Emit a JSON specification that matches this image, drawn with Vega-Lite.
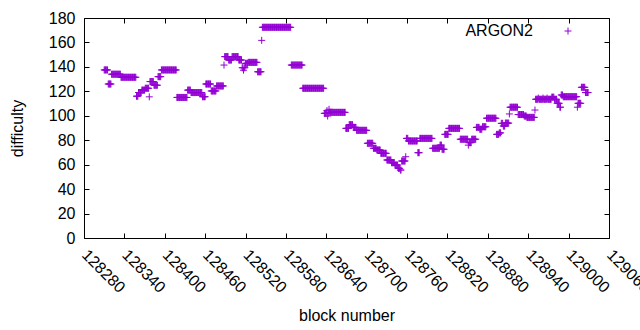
{
"$schema": "https://vega.github.io/schema/vega-lite/v6.json",
"width": 525, "height": 220,
"autosize": "none",
"padding": {"left": 84, "top": 18, "right": 31, "bottom": 92},
"background": "white",
"config": {
  "view": {"stroke": "black", "strokeWidth": 1},
  "font": "Liberation Sans",
  "axis": {"labelColor": "black", "tickColor": "black", "titleColor": "black", "titleFontWeight": "normal", "labelFontSize": 16, "titleFontSize": 16, "grid": false, "domain": false, "tickSize": -5, "tickWidth": 1}
},
"data": {"values": [
{"block":128310,"difficulty":137.5},{"block":128311,"difficulty":137.5},{"block":128312,"difficulty":137.5},{"block":128313,"difficulty":137.5},{"block":128314,"difficulty":137.5},{"block":128315,"difficulty":137.5},
{"block":128316,"difficulty":126},{"block":128317,"difficulty":126},{"block":128318,"difficulty":126},{"block":128319,"difficulty":126},{"block":128320,"difficulty":126},
{"block":128321,"difficulty":134},{"block":128322,"difficulty":134},{"block":128323,"difficulty":134},{"block":128324,"difficulty":134},{"block":128325,"difficulty":134},{"block":128326,"difficulty":134},{"block":128327,"difficulty":134},{"block":128328,"difficulty":134},{"block":128329,"difficulty":134},{"block":128330,"difficulty":134},{"block":128331,"difficulty":134},{"block":128332,"difficulty":134},{"block":128333,"difficulty":134},{"block":128334,"difficulty":134},
{"block":128335,"difficulty":131.5},{"block":128336,"difficulty":131.5},{"block":128337,"difficulty":131.5},{"block":128338,"difficulty":131.5},{"block":128339,"difficulty":131.5},{"block":128340,"difficulty":131.5},{"block":128341,"difficulty":131.5},{"block":128342,"difficulty":131.5},{"block":128343,"difficulty":131.5},{"block":128344,"difficulty":131.5},{"block":128345,"difficulty":131.5},{"block":128346,"difficulty":131.5},{"block":128347,"difficulty":131.5},{"block":128348,"difficulty":131.5},{"block":128349,"difficulty":131.5},{"block":128350,"difficulty":131.5},{"block":128351,"difficulty":131.5},{"block":128352,"difficulty":131.5},{"block":128353,"difficulty":131.5},{"block":128354,"difficulty":131.5},{"block":128355,"difficulty":131.5},{"block":128356,"difficulty":131.5},{"block":128357,"difficulty":131.5},
{"block":128358,"difficulty":116},{"block":128359,"difficulty":116},{"block":128360,"difficulty":116},
{"block":128361,"difficulty":119},{"block":128362,"difficulty":119},{"block":128363,"difficulty":119},{"block":128364,"difficulty":119},{"block":128365,"difficulty":119},
{"block":128366,"difficulty":121},{"block":128367,"difficulty":121},{"block":128368,"difficulty":121},{"block":128369,"difficulty":121},{"block":128370,"difficulty":121},
{"block":128371,"difficulty":122.5},{"block":128372,"difficulty":122.5},{"block":128373,"difficulty":122.5},{"block":128374,"difficulty":122.5},{"block":128375,"difficulty":122.5},{"block":128376,"difficulty":122.5},
{"block":128377,"difficulty":115.5},
{"block":128378,"difficulty":128},{"block":128379,"difficulty":128},{"block":128380,"difficulty":128},{"block":128381,"difficulty":128},{"block":128382,"difficulty":128},{"block":128383,"difficulty":128},
{"block":128384,"difficulty":125},{"block":128385,"difficulty":125},{"block":128386,"difficulty":125},{"block":128387,"difficulty":125},{"block":128388,"difficulty":125},{"block":128389,"difficulty":125},
{"block":128390,"difficulty":132},{"block":128391,"difficulty":132},{"block":128392,"difficulty":132},{"block":128393,"difficulty":132},{"block":128394,"difficulty":132},
{"block":128395,"difficulty":137.5},{"block":128396,"difficulty":137.5},{"block":128397,"difficulty":137.5},{"block":128398,"difficulty":137.5},{"block":128399,"difficulty":137.5},{"block":128400,"difficulty":137.5},{"block":128401,"difficulty":137.5},{"block":128402,"difficulty":137.5},{"block":128403,"difficulty":137.5},{"block":128404,"difficulty":137.5},{"block":128405,"difficulty":137.5},{"block":128406,"difficulty":137.5},{"block":128407,"difficulty":137.5},{"block":128408,"difficulty":137.5},{"block":128409,"difficulty":137.5},{"block":128410,"difficulty":137.5},{"block":128411,"difficulty":137.5},{"block":128412,"difficulty":137.5},{"block":128413,"difficulty":137.5},{"block":128414,"difficulty":137.5},{"block":128415,"difficulty":137.5},{"block":128416,"difficulty":137.5},{"block":128417,"difficulty":137.5},
{"block":128418,"difficulty":115},{"block":128419,"difficulty":115},{"block":128420,"difficulty":115},{"block":128421,"difficulty":115},{"block":128422,"difficulty":115},{"block":128423,"difficulty":115},{"block":128424,"difficulty":115},{"block":128425,"difficulty":115},{"block":128426,"difficulty":115},{"block":128427,"difficulty":115},{"block":128428,"difficulty":115},{"block":128429,"difficulty":115},{"block":128430,"difficulty":115},{"block":128431,"difficulty":115},{"block":128432,"difficulty":115},{"block":128433,"difficulty":115},
{"block":128434,"difficulty":121},{"block":128435,"difficulty":121},{"block":128436,"difficulty":121},{"block":128437,"difficulty":121},{"block":128438,"difficulty":121},
{"block":128439,"difficulty":119},{"block":128440,"difficulty":119},{"block":128441,"difficulty":119},{"block":128442,"difficulty":119},{"block":128443,"difficulty":119},{"block":128444,"difficulty":119},{"block":128445,"difficulty":119},{"block":128446,"difficulty":119},{"block":128447,"difficulty":119},{"block":128448,"difficulty":119},{"block":128449,"difficulty":119},{"block":128450,"difficulty":119},{"block":128451,"difficulty":119},{"block":128452,"difficulty":119},{"block":128453,"difficulty":119},{"block":128454,"difficulty":119},{"block":128455,"difficulty":119},
{"block":128456,"difficulty":115.6},{"block":128457,"difficulty":115.6},{"block":128458,"difficulty":115.6},{"block":128459,"difficulty":115.6},{"block":128460,"difficulty":115.6},
{"block":128461,"difficulty":126},{"block":128462,"difficulty":126},{"block":128463,"difficulty":126},{"block":128464,"difficulty":126},{"block":128465,"difficulty":126},{"block":128466,"difficulty":126},{"block":128467,"difficulty":126},{"block":128468,"difficulty":126},
{"block":128469,"difficulty":120.3},{"block":128470,"difficulty":120.3},{"block":128471,"difficulty":120.3},{"block":128472,"difficulty":120.3},{"block":128473,"difficulty":120.3},{"block":128474,"difficulty":120.3},{"block":128475,"difficulty":120.3},{"block":128476,"difficulty":120.3},
{"block":128477,"difficulty":124.4},{"block":128478,"difficulty":124.4},{"block":128479,"difficulty":124.4},{"block":128480,"difficulty":124.4},{"block":128481,"difficulty":124.4},{"block":128482,"difficulty":124.4},{"block":128483,"difficulty":124.4},{"block":128484,"difficulty":124.4},{"block":128485,"difficulty":124.4},{"block":128486,"difficulty":124.4},{"block":128487,"difficulty":124.4},
{"block":128488,"difficulty":141.5},
{"block":128489,"difficulty":148.4},{"block":128490,"difficulty":148.4},{"block":128491,"difficulty":148.4},{"block":128492,"difficulty":148.4},{"block":128493,"difficulty":148.4},{"block":128494,"difficulty":148.4},
{"block":128495,"difficulty":145.6},{"block":128496,"difficulty":145.6},{"block":128497,"difficulty":145.6},{"block":128498,"difficulty":145.6},{"block":128499,"difficulty":145.6},
{"block":128500,"difficulty":148.4},{"block":128501,"difficulty":148.4},{"block":128502,"difficulty":148.4},{"block":128503,"difficulty":148.4},{"block":128504,"difficulty":148.4},{"block":128505,"difficulty":148.4},{"block":128506,"difficulty":148.4},{"block":128507,"difficulty":148.4},{"block":128508,"difficulty":148.4},{"block":128509,"difficulty":148.4},
{"block":128510,"difficulty":145.6},{"block":128511,"difficulty":145.6},{"block":128512,"difficulty":145.6},{"block":128513,"difficulty":145.6},{"block":128514,"difficulty":145.6},
{"block":128515,"difficulty":139.3},{"block":128516,"difficulty":139.3},{"block":128517,"difficulty":137.3},{"block":128518,"difficulty":139.3},{"block":128519,"difficulty":139.3},
{"block":128520,"difficulty":142.9},{"block":128521,"difficulty":142.9},{"block":128522,"difficulty":142.9},{"block":128523,"difficulty":142.9},
{"block":128524,"difficulty":143.7},{"block":128525,"difficulty":143.7},{"block":128526,"difficulty":143.7},{"block":128527,"difficulty":143.7},{"block":128528,"difficulty":143.7},{"block":128529,"difficulty":143.7},{"block":128530,"difficulty":143.7},{"block":128531,"difficulty":143.7},{"block":128532,"difficulty":143.7},{"block":128533,"difficulty":143.7},{"block":128534,"difficulty":143.7},{"block":128535,"difficulty":143.7},{"block":128536,"difficulty":143.7},{"block":128537,"difficulty":143.7},
{"block":128538,"difficulty":136},{"block":128539,"difficulty":136},{"block":128540,"difficulty":136},{"block":128541,"difficulty":136},{"block":128542,"difficulty":136},{"block":128543,"difficulty":136},
{"block":128544,"difficulty":161.7},
{"block":128545,"difficulty":172.4},{"block":128546,"difficulty":172.4},{"block":128547,"difficulty":172.4},{"block":128548,"difficulty":172.4},{"block":128549,"difficulty":172.4},{"block":128550,"difficulty":172.4},{"block":128551,"difficulty":172.4},{"block":128552,"difficulty":172.4},{"block":128553,"difficulty":172.4},{"block":128554,"difficulty":172.4},{"block":128555,"difficulty":172.4},{"block":128556,"difficulty":172.4},{"block":128557,"difficulty":172.4},{"block":128558,"difficulty":172.4},{"block":128559,"difficulty":172.4},{"block":128560,"difficulty":172.4},{"block":128561,"difficulty":172.4},{"block":128562,"difficulty":172.4},{"block":128563,"difficulty":172.4},{"block":128564,"difficulty":172.4},{"block":128565,"difficulty":172.4},{"block":128566,"difficulty":172.4},{"block":128567,"difficulty":172.4},{"block":128568,"difficulty":172.4},{"block":128569,"difficulty":172.4},{"block":128570,"difficulty":172.4},{"block":128571,"difficulty":172.4},{"block":128572,"difficulty":172.4},{"block":128573,"difficulty":172.4},{"block":128574,"difficulty":172.4},{"block":128575,"difficulty":172.4},{"block":128576,"difficulty":172.4},{"block":128577,"difficulty":172.4},{"block":128578,"difficulty":172.4},{"block":128579,"difficulty":172.4},{"block":128580,"difficulty":172.4},{"block":128581,"difficulty":172.4},{"block":128582,"difficulty":172.4},{"block":128583,"difficulty":172.4},{"block":128584,"difficulty":172.4},{"block":128585,"difficulty":172.4},{"block":128586,"difficulty":172.4},{"block":128587,"difficulty":172.4},
{"block":128588,"difficulty":141.5},{"block":128589,"difficulty":141.5},{"block":128590,"difficulty":141.5},{"block":128591,"difficulty":141.5},{"block":128592,"difficulty":141.5},{"block":128593,"difficulty":141.5},{"block":128594,"difficulty":141.5},{"block":128595,"difficulty":141.5},{"block":128596,"difficulty":141.5},{"block":128597,"difficulty":141.5},{"block":128598,"difficulty":141.5},{"block":128599,"difficulty":141.5},{"block":128600,"difficulty":141.5},{"block":128601,"difficulty":141.5},{"block":128602,"difficulty":141.5},{"block":128603,"difficulty":141.5},{"block":128604,"difficulty":141.5},
{"block":128605,"difficulty":122.5},{"block":128606,"difficulty":122.5},{"block":128607,"difficulty":122.5},{"block":128608,"difficulty":122.5},{"block":128609,"difficulty":122.5},{"block":128610,"difficulty":122.5},{"block":128611,"difficulty":122.5},{"block":128612,"difficulty":122.5},{"block":128613,"difficulty":122.5},{"block":128614,"difficulty":122.5},{"block":128615,"difficulty":122.5},{"block":128616,"difficulty":122.5},{"block":128617,"difficulty":122.5},{"block":128618,"difficulty":122.5},{"block":128619,"difficulty":122.5},{"block":128620,"difficulty":122.5},{"block":128621,"difficulty":122.5},{"block":128622,"difficulty":122.5},{"block":128623,"difficulty":122.5},{"block":128624,"difficulty":122.5},{"block":128625,"difficulty":122.5},{"block":128626,"difficulty":122.5},{"block":128627,"difficulty":122.5},{"block":128628,"difficulty":122.5},{"block":128629,"difficulty":122.5},{"block":128630,"difficulty":122.5},{"block":128631,"difficulty":122.5},{"block":128632,"difficulty":122.5},{"block":128633,"difficulty":122.5},{"block":128634,"difficulty":122.5},{"block":128635,"difficulty":122.5},{"block":128636,"difficulty":122.5},
{"block":128637,"difficulty":102},{"block":128638,"difficulty":102},{"block":128639,"difficulty":102},{"block":128640,"difficulty":102},{"block":128641,"difficulty":104.2},{"block":128642,"difficulty":99.8},{"block":128643,"difficulty":102},{"block":128644,"difficulty":105.3},
{"block":128645,"difficulty":102.8},{"block":128646,"difficulty":102.8},{"block":128647,"difficulty":102.8},{"block":128648,"difficulty":102.8},{"block":128649,"difficulty":102.8},{"block":128650,"difficulty":102.8},{"block":128651,"difficulty":102.8},{"block":128652,"difficulty":102.8},{"block":128653,"difficulty":102.8},{"block":128654,"difficulty":102.8},{"block":128655,"difficulty":102.8},{"block":128656,"difficulty":102.8},{"block":128657,"difficulty":102.8},{"block":128658,"difficulty":102.8},{"block":128659,"difficulty":102.8},{"block":128660,"difficulty":102.8},{"block":128661,"difficulty":102.8},{"block":128662,"difficulty":102.8},{"block":128663,"difficulty":102.8},{"block":128664,"difficulty":102.8},{"block":128665,"difficulty":102.8},{"block":128666,"difficulty":102.8},{"block":128667,"difficulty":102.8},{"block":128668,"difficulty":102.8},
{"block":128669,"difficulty":89.7},{"block":128670,"difficulty":89.7},{"block":128671,"difficulty":89.7},{"block":128672,"difficulty":89.7},{"block":128673,"difficulty":89.7},
{"block":128674,"difficulty":92.7},{"block":128675,"difficulty":92.7},{"block":128676,"difficulty":92.7},{"block":128677,"difficulty":92.7},{"block":128678,"difficulty":92.7},{"block":128679,"difficulty":92.7},
{"block":128680,"difficulty":90.5},{"block":128681,"difficulty":90.5},{"block":128682,"difficulty":90.5},{"block":128683,"difficulty":90.5},{"block":128684,"difficulty":90.5},
{"block":128685,"difficulty":88.1},{"block":128686,"difficulty":88.1},{"block":128687,"difficulty":88.1},{"block":128688,"difficulty":88.1},{"block":128689,"difficulty":88.1},{"block":128690,"difficulty":88.1},{"block":128691,"difficulty":88.1},{"block":128692,"difficulty":88.1},{"block":128693,"difficulty":88.1},{"block":128694,"difficulty":88.1},{"block":128695,"difficulty":88.1},{"block":128696,"difficulty":88.1},{"block":128697,"difficulty":88.1},{"block":128698,"difficulty":88.1},{"block":128699,"difficulty":88.1},{"block":128700,"difficulty":88.1},
{"block":128701,"difficulty":77.5},{"block":128702,"difficulty":77.5},{"block":128703,"difficulty":77.5},{"block":128704,"difficulty":77.5},{"block":128705,"difficulty":77.5},{"block":128706,"difficulty":77.5},{"block":128707,"difficulty":77.5},{"block":128708,"difficulty":77.5},{"block":128709,"difficulty":77.5},
{"block":128710,"difficulty":73.4},{"block":128711,"difficulty":73.4},{"block":128712,"difficulty":73.4},{"block":128713,"difficulty":73.4},{"block":128714,"difficulty":73.4},
{"block":128715,"difficulty":72},{"block":128716,"difficulty":72},{"block":128717,"difficulty":72},{"block":128718,"difficulty":72},{"block":128719,"difficulty":72},{"block":128720,"difficulty":72},
{"block":128721,"difficulty":69.3},{"block":128722,"difficulty":69.3},{"block":128723,"difficulty":69.3},{"block":128724,"difficulty":69.3},{"block":128725,"difficulty":69.3},{"block":128726,"difficulty":69.3},{"block":128727,"difficulty":69.3},{"block":128728,"difficulty":69.3},{"block":128729,"difficulty":69.3},
{"block":128730,"difficulty":63.8},{"block":128731,"difficulty":63.8},{"block":128732,"difficulty":63.8},{"block":128733,"difficulty":63.8},{"block":128734,"difficulty":63.8},{"block":128735,"difficulty":63.8},{"block":128736,"difficulty":63.8},
{"block":128737,"difficulty":61.6},{"block":128738,"difficulty":61.6},{"block":128739,"difficulty":61.6},{"block":128740,"difficulty":61.6},{"block":128741,"difficulty":61.6},
{"block":128742,"difficulty":59.7},{"block":128743,"difficulty":59.7},{"block":128744,"difficulty":59.7},{"block":128745,"difficulty":59.7},{"block":128746,"difficulty":59.7},
{"block":128747,"difficulty":57},{"block":128748,"difficulty":57},{"block":128749,"difficulty":57},{"block":128750,"difficulty":55.6},{"block":128751,"difficulty":55.6},
{"block":128752,"difficulty":63},{"block":128753,"difficulty":63},{"block":128754,"difficulty":63},{"block":128755,"difficulty":63},{"block":128756,"difficulty":63},{"block":128757,"difficulty":63},
{"block":128758,"difficulty":66.5},
{"block":128759,"difficulty":81.5},{"block":128760,"difficulty":81.5},{"block":128761,"difficulty":81.5},
{"block":128762,"difficulty":79.4},{"block":128763,"difficulty":79.4},{"block":128764,"difficulty":79.4},{"block":128765,"difficulty":79.4},{"block":128766,"difficulty":79.4},{"block":128767,"difficulty":79.4},{"block":128768,"difficulty":79.4},{"block":128769,"difficulty":79.4},{"block":128770,"difficulty":79.4},{"block":128771,"difficulty":79.4},{"block":128772,"difficulty":79.4},{"block":128773,"difficulty":79.4},{"block":128774,"difficulty":79.4},{"block":128775,"difficulty":79.4},
{"block":128776,"difficulty":69.8},{"block":128777,"difficulty":69.8},{"block":128778,"difficulty":69.8},
{"block":128779,"difficulty":81.5},{"block":128780,"difficulty":81.5},{"block":128781,"difficulty":81.5},{"block":128782,"difficulty":81.5},{"block":128783,"difficulty":81.5},{"block":128784,"difficulty":81.5},{"block":128785,"difficulty":81.5},{"block":128786,"difficulty":81.5},{"block":128787,"difficulty":81.5},{"block":128788,"difficulty":81.5},{"block":128789,"difficulty":81.5},{"block":128790,"difficulty":81.5},{"block":128791,"difficulty":81.5},{"block":128792,"difficulty":81.5},{"block":128793,"difficulty":81.5},{"block":128794,"difficulty":81.5},{"block":128795,"difficulty":81.5},{"block":128796,"difficulty":81.5},{"block":128797,"difficulty":81.5},
{"block":128798,"difficulty":73.4},{"block":128799,"difficulty":73.4},{"block":128800,"difficulty":73.4},{"block":128801,"difficulty":73.4},{"block":128802,"difficulty":73.4},{"block":128803,"difficulty":73.4},{"block":128804,"difficulty":73.4},{"block":128805,"difficulty":73.4},{"block":128806,"difficulty":73.4},{"block":128807,"difficulty":73.4},{"block":128808,"difficulty":73.4},
{"block":128809,"difficulty":76},{"block":128810,"difficulty":76},{"block":128811,"difficulty":76},
{"block":128812,"difficulty":72.6},{"block":128813,"difficulty":72.6},{"block":128814,"difficulty":72.6},{"block":128815,"difficulty":72.6},
{"block":128816,"difficulty":84.8},{"block":128817,"difficulty":84.8},{"block":128818,"difficulty":84.8},{"block":128819,"difficulty":84.8},{"block":128820,"difficulty":84.8},{"block":128821,"difficulty":84.8},
{"block":128822,"difficulty":89.7},{"block":128823,"difficulty":89.7},{"block":128824,"difficulty":89.7},{"block":128825,"difficulty":89.7},{"block":128826,"difficulty":89.7},{"block":128827,"difficulty":89.7},{"block":128828,"difficulty":89.7},{"block":128829,"difficulty":89.7},{"block":128830,"difficulty":89.7},{"block":128831,"difficulty":89.7},{"block":128832,"difficulty":89.7},{"block":128833,"difficulty":89.7},{"block":128834,"difficulty":89.7},{"block":128835,"difficulty":89.7},{"block":128836,"difficulty":89.7},{"block":128837,"difficulty":89.7},{"block":128838,"difficulty":89.7},
{"block":128839,"difficulty":80.8},{"block":128840,"difficulty":80.8},{"block":128841,"difficulty":80.8},{"block":128842,"difficulty":80.8},{"block":128843,"difficulty":80.8},{"block":128844,"difficulty":80.8},{"block":128845,"difficulty":80.8},{"block":128846,"difficulty":80.8},{"block":128847,"difficulty":80.8},{"block":128848,"difficulty":80.8},{"block":128849,"difficulty":80.8},{"block":128850,"difficulty":80.8},
{"block":128851,"difficulty":76},
{"block":128852,"difficulty":78},{"block":128853,"difficulty":78},{"block":128854,"difficulty":78},{"block":128855,"difficulty":78},
{"block":128856,"difficulty":80.8},{"block":128857,"difficulty":80.8},{"block":128858,"difficulty":80.8},{"block":128859,"difficulty":80.8},{"block":128860,"difficulty":80.8},{"block":128861,"difficulty":80.8},{"block":128862,"difficulty":80.8},
{"block":128863,"difficulty":90.5},{"block":128864,"difficulty":90.5},{"block":128865,"difficulty":90.5},{"block":128866,"difficulty":90.5},{"block":128867,"difficulty":90.5},
{"block":128868,"difficulty":89},{"block":128869,"difficulty":89},{"block":128870,"difficulty":89},{"block":128871,"difficulty":89},
{"block":128872,"difficulty":91},{"block":128873,"difficulty":91},{"block":128874,"difficulty":91},{"block":128875,"difficulty":91},{"block":128876,"difficulty":91},{"block":128877,"difficulty":91},
{"block":128878,"difficulty":98},{"block":128879,"difficulty":98},{"block":128880,"difficulty":98},{"block":128881,"difficulty":98},{"block":128882,"difficulty":98},{"block":128883,"difficulty":98},{"block":128884,"difficulty":98},{"block":128885,"difficulty":98},{"block":128886,"difficulty":98},{"block":128887,"difficulty":98},{"block":128888,"difficulty":98},{"block":128889,"difficulty":98},{"block":128890,"difficulty":98},{"block":128891,"difficulty":98},{"block":128892,"difficulty":98},
{"block":128893,"difficulty":84.8},{"block":128894,"difficulty":84.8},{"block":128895,"difficulty":84.8},{"block":128896,"difficulty":84.8},
{"block":128897,"difficulty":86},{"block":128898,"difficulty":86},{"block":128899,"difficulty":86},
{"block":128900,"difficulty":93.8},{"block":128901,"difficulty":93.8},{"block":128902,"difficulty":93.8},
{"block":128903,"difficulty":91.6},{"block":128904,"difficulty":91.6},{"block":128905,"difficulty":91.6},
{"block":128906,"difficulty":94},{"block":128907,"difficulty":94},{"block":128908,"difficulty":94},{"block":128909,"difficulty":94},{"block":128910,"difficulty":94},{"block":128911,"difficulty":94},
{"block":128912,"difficulty":101.5},
{"block":128913,"difficulty":107},{"block":128914,"difficulty":107},{"block":128915,"difficulty":107},{"block":128916,"difficulty":107},{"block":128917,"difficulty":107},{"block":128918,"difficulty":107},{"block":128919,"difficulty":107},{"block":128920,"difficulty":107},{"block":128921,"difficulty":107},{"block":128922,"difficulty":107},{"block":128923,"difficulty":107},{"block":128924,"difficulty":107},
{"block":128925,"difficulty":101},{"block":128926,"difficulty":101},{"block":128927,"difficulty":101},{"block":128928,"difficulty":101},{"block":128929,"difficulty":101},{"block":128930,"difficulty":101},{"block":128931,"difficulty":101},{"block":128932,"difficulty":101},{"block":128933,"difficulty":101},
{"block":128934,"difficulty":99.8},{"block":128935,"difficulty":99.8},{"block":128936,"difficulty":99.8},{"block":128937,"difficulty":99.8},
{"block":128938,"difficulty":98.7},{"block":128939,"difficulty":98.7},{"block":128940,"difficulty":98.7},{"block":128941,"difficulty":98.7},{"block":128942,"difficulty":98.7},{"block":128943,"difficulty":98.7},{"block":128944,"difficulty":98.7},{"block":128945,"difficulty":98.7},{"block":128946,"difficulty":98.7},{"block":128947,"difficulty":98.7},{"block":128948,"difficulty":98.7},{"block":128949,"difficulty":98.7},
{"block":128950,"difficulty":104.7},
{"block":128951,"difficulty":113.5},{"block":128952,"difficulty":113.5},{"block":128953,"difficulty":113.5},{"block":128954,"difficulty":113.5},{"block":128955,"difficulty":114.5},{"block":128956,"difficulty":113.5},{"block":128957,"difficulty":113.5},{"block":128958,"difficulty":113.5},{"block":128959,"difficulty":113.5},{"block":128960,"difficulty":113.5},{"block":128961,"difficulty":113.5},{"block":128962,"difficulty":114.5},{"block":128963,"difficulty":113.5},{"block":128964,"difficulty":113.5},{"block":128965,"difficulty":113.5},{"block":128966,"difficulty":113.5},{"block":128967,"difficulty":113.5},{"block":128968,"difficulty":114.5},{"block":128969,"difficulty":113.5},{"block":128970,"difficulty":113.5},{"block":128971,"difficulty":113.5},{"block":128972,"difficulty":113.5},{"block":128973,"difficulty":113.5},{"block":128974,"difficulty":113.5},
{"block":128975,"difficulty":115.2},{"block":128976,"difficulty":115.2},{"block":128977,"difficulty":115.2},{"block":128978,"difficulty":115.2},
{"block":128979,"difficulty":113.5},{"block":128980,"difficulty":113.5},{"block":128981,"difficulty":113.5},{"block":128982,"difficulty":113.5},
{"block":128983,"difficulty":110.2},{"block":128984,"difficulty":110.2},{"block":128985,"difficulty":110.2},{"block":128986,"difficulty":110.2},
{"block":128987,"difficulty":107},{"block":128988,"difficulty":107},
{"block":128989,"difficulty":117},{"block":128990,"difficulty":117},{"block":128991,"difficulty":117},
{"block":128992,"difficulty":115.6},{"block":128993,"difficulty":115.6},{"block":128994,"difficulty":115.6},{"block":128995,"difficulty":115.6},{"block":128996,"difficulty":115.6},{"block":128997,"difficulty":115.6},{"block":128998,"difficulty":115.6},{"block":128999,"difficulty":115.6},{"block":129000,"difficulty":115.6},{"block":129001,"difficulty":115.6},{"block":129002,"difficulty":115.6},{"block":129003,"difficulty":115.6},{"block":129004,"difficulty":115.6},{"block":129005,"difficulty":115.6},{"block":129006,"difficulty":115.6},{"block":129007,"difficulty":115.6},{"block":129008,"difficulty":115.6},{"block":129009,"difficulty":115.6},{"block":129010,"difficulty":115.6},{"block":129011,"difficulty":115.6},{"block":129012,"difficulty":115.6},
{"block":129013,"difficulty":107},
{"block":129014,"difficulty":110.2},{"block":129015,"difficulty":110.2},{"block":129016,"difficulty":110.2},{"block":129017,"difficulty":110.2},{"block":129018,"difficulty":110.2},
{"block":129019,"difficulty":123.3},{"block":129020,"difficulty":123.3},{"block":129021,"difficulty":123.3},{"block":129022,"difficulty":123.3},{"block":129023,"difficulty":123.3},{"block":129024,"difficulty":123.3},
{"block":129025,"difficulty":119},{"block":129026,"difficulty":119},{"block":129027,"difficulty":119},{"block":129028,"difficulty":119},{"block":129029,"difficulty":119}
]},
"layer": [
  {
    "mark": {"type": "point", "shape": "M-1,0H1M0,-1V1", "filled": false, "size": 49, "strokeWidth": 1, "opacity": 1},
    "encoding": {
      "x": {"field": "block", "type": "quantitative",
        "scale": {"domain": [128280, 129060], "nice": false, "zero": false},
        "axis": {"orient": "bottom", "values": [128280,128340,128400,128460,128520,128580,128640,128700,128760,128820,128880,128940,129000,129060],
          "format": "d", "title": "block number", "labelAngle": 45, "labelAlign": "left", "labelBaseline": "middle",
          "labelPadding": 19, "labelBound": false, "labelOverlap": false, "labelFlush": false,
          "titleY": 77, "titleBaseline": "middle"}},
      "y": {"field": "difficulty", "type": "quantitative",
        "scale": {"domain": [0, 180], "nice": false, "zero": true},
        "axis": {"orient": "left", "values": [0,20,40,60,80,100,120,140,160,180], "title": "difficulty",
          "labelPadding": 14, "titleX": -67, "titleY": 110, "titleAngle": -90, "titleAlign": "center", "titleBaseline": "middle"}},
      "color": {"datum": "ARGON2", "scale": {"range": ["#9400d3"]},
        "legend": {"title": null, "orient": "none", "legendX": 476, "legendY": 5, "padding": 0,
          "labelAlign": "right", "labelOffset": -43, "labelFontSize": 16, "labelColor": "black", "labelFont": "Liberation Sans",
          "symbolType": "M-1,0H1M0,-1V1", "symbolSize": 49, "symbolStrokeWidth": 1, "symbolFillColor": "transparent"}}
    }
  },
  {
    "mark": {"type": "point", "opacity": 0},
    "encoding": {
      "x": {"field": "block", "type": "quantitative",
        "axis": {"orient": "top", "values": [128280,128340,128400,128460,128520,128580,128640,128700,128760,128820,128880,128940,129000,129060], "labels": false, "title": null}},
      "y": {"field": "difficulty", "type": "quantitative",
        "axis": {"orient": "right", "values": [0,20,40,60,80,100,120,140,160,180], "labels": false, "title": null}}
    }
  }
],
"resolve": {"axis": {"x": "independent", "y": "independent"}}
}
